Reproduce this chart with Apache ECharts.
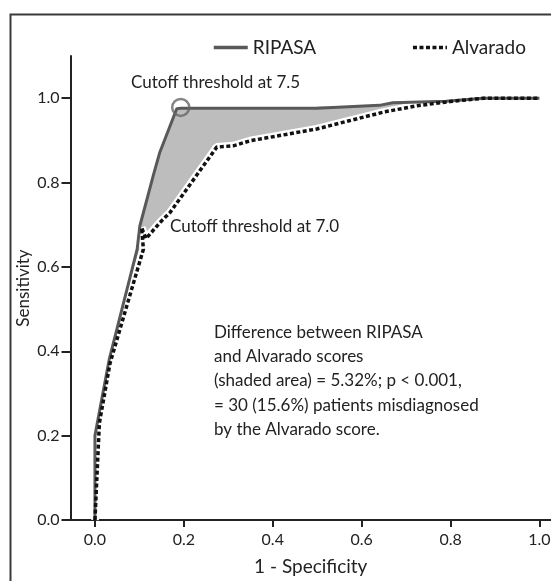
<!DOCTYPE html>
<html>
<head>
<meta charset="utf-8">
<script src="https://cdn.jsdelivr.net/npm/echarts@6/dist/echarts.min.js"></script>
<style>
html,body{margin:0;padding:0;background:#fff;}
#c{width:551px;height:581px;}
</style>
</head>
<body>
<div id="c"></div>
<script>
// ---- data ----
var ripasaX = [0, 0, 0.032, 0.095, 0.101, 0.131, 0.146, 0.184, 0.193, 0.50, 0.50, 0.64, 0.67, 0.79, 0.873, 1.0];
var ripasaY = [0, 0.20, 0.38, 0.642, 0.697, 0.816, 0.872, 0.975, 0.976, 0.976, 0.980, 0.983, 0.989, 0.993, 1.0, 1.0];
var alvaradoX = [0, 0.002, 0.01, 0.034, 0.109, 0.105, 0.115, 0.146, 0.169, 0.274, 0.311, 0.349, 0.499, 0.649, 0.724, 0.799, 0.874, 1.0];
var alvaradoY = [0, 0.004, 0.23, 0.372, 0.642, 0.693, 0.667, 0.705, 0.729, 0.884, 0.887, 0.899, 0.927, 0.967, 0.982, 0.992, 1.0, 1.0];
var cutoff75 = [0.193, 0.978];
var xTicks = [0, 0.2, 0.4, 0.6, 0.8, 1.0];
var yTicks = [0, 0.2, 0.4, 0.6, 0.8, 1.0];
var seriesNames = ['RIPASA', 'Alvarado'];
var noteText = ['Difference between RIPASA', 'and Alvarado scores', '(shaded area) = 5.32%; p < 0.001,', '= 30 (15.6%) patients misdiagnosed', 'by the Alvarado score.'];
var cutoff75Label = 'Cutoff threshold at 7.5';
var cutoff70Label = 'Cutoff threshold at 7.0';

function pairs(xs, ys){ return xs.map(function(x,i){ return [x, ys[i]]; }); }
var ripasa = pairs(ripasaX, ripasaY);
var alvarado = pairs(alvaradoX, alvaradoY);

var FONT = 'Lato';
var TXT = '#222';
var chart = echarts.init(document.getElementById('c'), null, {renderer:'canvas'});
var option = {
  animation: false,
  backgroundColor: '#fff',
  textStyle: {fontFamily: FONT, color: TXT},
  grid: {left: 70.5, right: 0, top: 56, bottom: 61, outerBoundsMode: 'none', containLabel: false},
  legend: {
    data: [
      {name: seriesNames[0], lineStyle: {width: 3.5, color: '#595959'}},
      {name: seriesNames[1], lineStyle: {width: 3.5, color: '#111', type: [4, 2.5]}}
    ],
    left: 212, top: 38, padding: 0,
    itemWidth: 34, itemHeight: 14, itemGap: 95,
    itemStyle: {opacity: 0},
    textStyle: {fontFamily: FONT, fontSize: 19, color: TXT}
  },
  xAxis: {
    type: 'value', min: -0.055, max: 1.026,
    name: '1 - Specificity', nameLocation: 'middle', nameGap: 37,
    nameTextStyle: {fontFamily: FONT, fontSize: 19, color: TXT},
    axisLine: {onZero: false, lineStyle: {color: '#222', width: 2}},
    axisTick: {show: true, customValues: xTicks, length: 7, lineStyle: {color: '#222', width: 2}},
    axisLabel: {customValues: xTicks, margin: 12, fontFamily: FONT, fontSize: 16, color: TXT,
      formatter: function(v){ return v.toFixed(1); }},
    splitLine: {show: false}
  },
  yAxis: {
    type: 'value', min: 0, max: 1.1,
    name: 'Sensitivity', nameLocation: 'middle', nameGap: 38, nameRotate: 90, nameMoveOverlap: false,
    nameTextStyle: {fontFamily: FONT, fontSize: 17, color: TXT},
    axisLine: {onZero: false, lineStyle: {color: '#222', width: 2}},
    axisTick: {show: true, customValues: yTicks, length: 9, lineStyle: {color: '#222', width: 2}},
    axisLabel: {customValues: yTicks, margin: 11, fontFamily: FONT, fontSize: 16, color: TXT,
      formatter: function(v){ return v.toFixed(1); }},
    splitLine: {show: false}
  },
  graphic: [
    {type: 'rect', shape: {x: 10.5, y: 14.5, width: 700, height: 700}, style: {fill: null, stroke: '#3a3a3a', lineWidth: 2}, silent: true, z: -10},
    {type: 'text', left: 131, top: 74, style: {text: cutoff75Label, font: '17px ' + FONT, fill: TXT}, z: 50},
    {type: 'text', left: 170, top: 218, style: {text: cutoff70Label, font: '17px ' + FONT, fill: TXT}, z: 50},
    {type: 'text', left: 214, top: 320, style: {text: noteText.join('\n'), font: '17px ' + FONT, fill: TXT, lineHeight: 24.3}, z: 50}
  ],
  series: [
    {
      type: 'custom', name: 'shade', silent: true, z: 1,
      data: [[0]],
      renderItem: function(params, api){
        var pts = [];
        ripasa.forEach(function(p){ pts.push(api.coord(p)); });
        alvarado.slice().reverse().forEach(function(p){ pts.push(api.coord(p)); });
        return {type: 'polygon', shape: {points: pts}, style: {fill: '#bdbdbd', stroke: null}};
      }
    },
    {
      type: 'line', name: 'halo', data: alvarado, symbol: 'none', silent: true, z: 2,
      lineStyle: {color: '#fff', width: 8}
    },
    {
      type: 'line', name: 'RIPASA', data: ripasa, symbol: 'none', z: 3,
      itemStyle: {color: '#595959'},
      lineStyle: {color: '#595959', width: 3}
    },
    {
      type: 'line', name: 'Alvarado', data: alvarado, symbol: 'none', z: 4,
      itemStyle: {color: '#111'},
      lineStyle: {color: '#111', width: 3.5, type: [4, 2.5]}
    },
    {
      type: 'scatter', name: 'cutoff', data: [cutoff75], symbol: 'circle', symbolSize: 17, z: 5, silent: true,
      itemStyle: {color: 'rgba(0,0,0,0)', borderColor: '#666', borderWidth: 2.5}
    }
  ]
};
chart.setOption(option);
</script>
</body>
</html>
